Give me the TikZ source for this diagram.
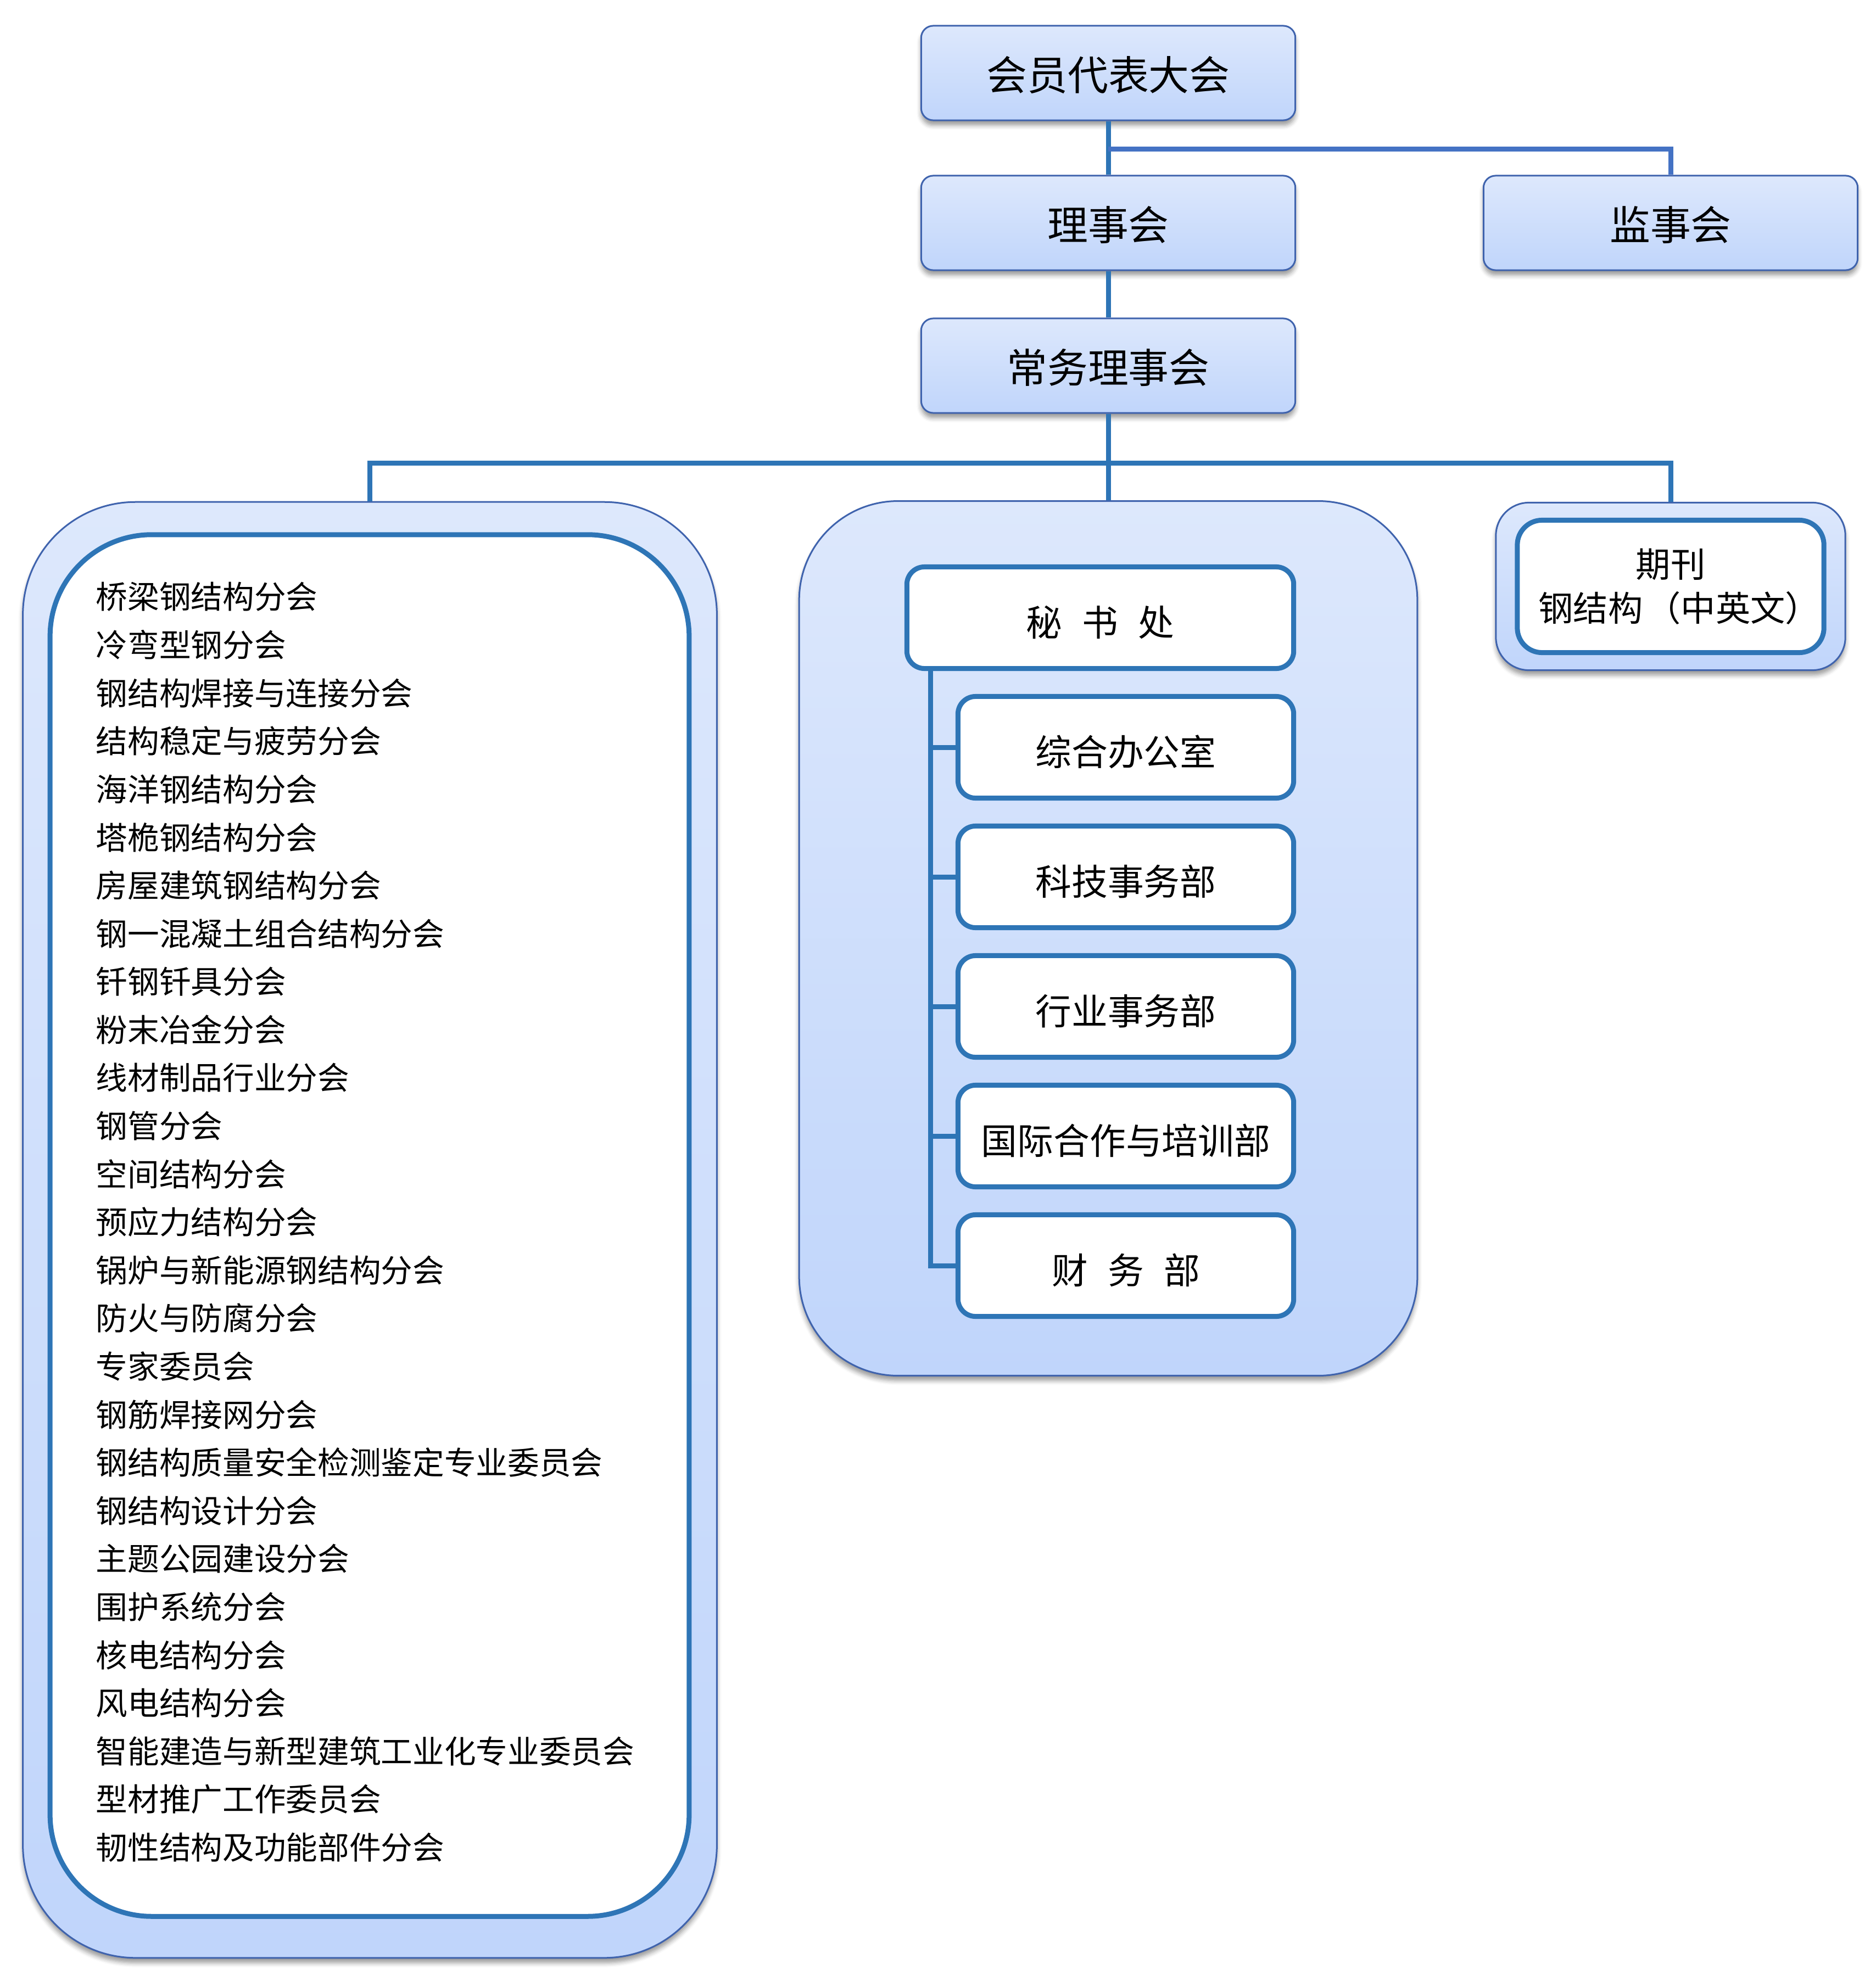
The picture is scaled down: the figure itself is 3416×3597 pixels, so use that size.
\documentclass[tikz,border=0pt]{standalone}
\usepackage{fontspec}
\setmainfont{Noto Sans CJK SC}
\usetikzlibrary{shadows.blur}
\definecolor{edgeblue}{HTML}{3F63AD}
\definecolor{filltop}{HTML}{DDE8FC}
\definecolor{fillbot}{HTML}{C0D5FB}
\definecolor{lineblue}{HTML}{2E75B6}
\definecolor{barblue}{HTML}{4472C4}
\begin{document}
\begin{tikzpicture}[x=0.01cm,y=-0.01cm,
    bluebox/.style={draw=edgeblue,line width=0.03cm,top color=filltop,bottom color=fillbot,
      blur shadow={shadow xshift=0cm,shadow yshift=-0.09cm,shadow blur radius=0.08cm,shadow opacity=40}},
    headbox/.style={bluebox,rounded corners=0.22cm,minimum width=6.81cm,minimum height=1.72cm,
      text height=20.5pt,text depth=2.4pt,font=\fontsize{21}{25}\selectfont},
    frame/.style={draw=lineblue,line width=0.09cm,fill=white},
    deptbox/.style={frame,rounded corners=0.32cm,minimum width=6.11cm,minimum height=1.85cm,
      text height=21pt,text depth=2.2pt,font=\fontsize{18.7}{22}\selectfont},
    link/.style={draw=lineblue,line width=0.09cm},
    bar/.style={draw=barblue,line width=0.09cm}]
  \useasboundingbox (0,0) rectangle (3416,3597);

  % leading bodies
  \path (2018,133) node[headbox] (dahui) {会员代表大会};
  \path (2018,406) node[headbox] (lsh) {理事会};
  \path (3042,406) node[headbox] (jsh) {监事会};
  \path (2018,666) node[headbox] (cwl) {常务理事会};

  % branches and committees
  \path (673.5,2240) node[bluebox,rounded corners=2.05cm,minimum width=12.63cm,minimum height=26.5cm] (fho) {};
  \path (673,2232) node[frame,rounded corners=1.85cm,minimum width=11.63cm,minimum height=25.15cm] (fhi) {};
  \foreach \t [count=\i from 0] in {桥梁钢结构分会,冷弯型钢分会,钢结构焊接与连接分会,结构稳定与疲劳分会,
      海洋钢结构分会,塔桅钢结构分会,房屋建筑钢结构分会,钢一混凝土组合结构分会,钎钢钎具分会,
      粉末冶金分会,线材制品行业分会,钢管分会,空间结构分会,预应力结构分会,锅炉与新能源钢结构分会,
      防火与防腐分会,专家委员会,钢筋焊接网分会,钢结构质量安全检测鉴定专业委员会,钢结构设计分会,
      主题公园建设分会,围护系统分会,核电结构分会,风电结构分会,智能建造与新型建筑工业化专业委员会,
      型材推广工作委员会,韧性结构及功能部件分会}
    \path (174,{1087+87.6*\i}) node[anchor=west,inner sep=0pt,font=\fontsize{16.4}{20}\selectfont] (fh\i) {\t};

  % secretariat
  \path (2018,1709) node[bluebox,rounded corners=1.8cm,minimum width=11.25cm,minimum height=15.92cm] (mso) {};
  \path (2003.5,1125) node[deptbox,minimum width=7.04cm] (msc) {秘\hspace{0.55em}书\hspace{0.55em}处};
  \foreach \t/\n [count=\i from 0] in {综合办公室/zhb,科技事务部/kjb,行业事务部/hyb,国际合作与培训部/gjb,
      财\hspace{0.55em}务\hspace{0.55em}部/cwb}
    \path (2050,{1361+236*\i}) node[deptbox] (\n) {\t};
  \path (msc.south west) ++(48,0) coordinate (sp);
  \draw[link] (sp) |- (cwb.west);
  \foreach \n in {zhb,kjb,hyb,gjb}
    \draw[link] (sp |- \n.west) -- (\n.west);

  % journal
  \path (3042,1068) node[bluebox,rounded corners=0.6cm,minimum width=6.36cm,minimum height=3.05cm] (qko) {};
  \path (qko.center) node[frame,rounded corners=0.45cm,minimum width=5.58cm,minimum height=2.41cm,
      inner sep=0pt,text width=5.56cm,align=center,font=\fontsize{18}{22.7}\selectfont] (qki)
      {期刊\\\hspace*{0.5em}钢结构\hspace{0.1em}（中英文）};

  % connectors
  \draw[link] (dahui.south) -- (lsh.north);
  \draw[bar] (dahui.south) ++(0,51) -| (jsh.north);
  \draw[link] (lsh.south) -- (cwl.north);
  \draw[link] (cwl.south) -- ++(0,90) coordinate (bus);
  \draw[link] (fho.north) |- (bus) -| (qko.north);
  \draw[link] (bus) -- (mso.north);
\end{tikzpicture}
\end{document}
